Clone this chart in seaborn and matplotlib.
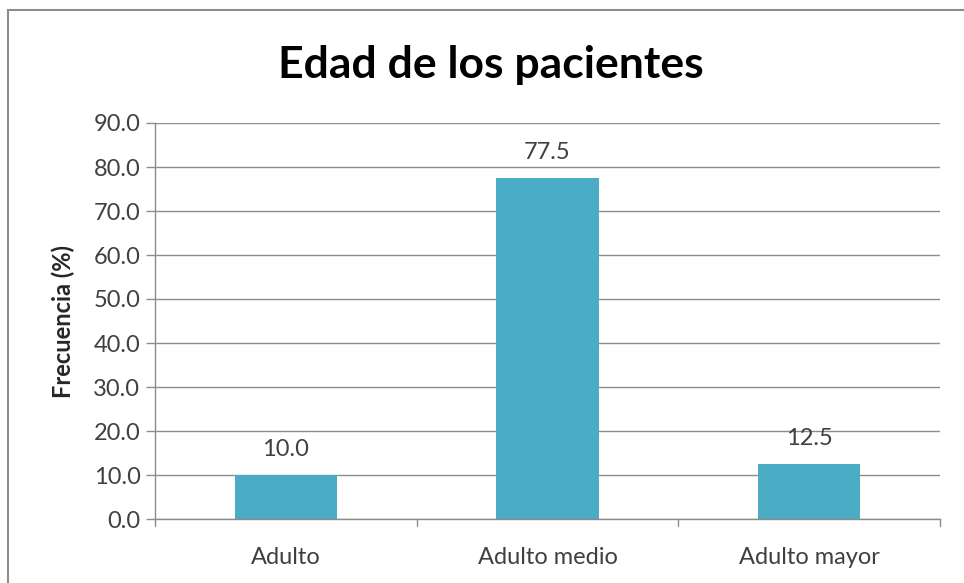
import matplotlib
matplotlib.use("Agg")
import matplotlib.pyplot as plt
from matplotlib.patches import Rectangle
import seaborn as sns
import pandas as pd

# Chart data
categorias = ["Adulto", "Adulto medio", "Adulto mayor"]
frecuencias = [10.0, 77.5, 12.5]
y_ticks = [0, 10, 20, 30, 40, 50, 60, 70, 80, 90]

df = pd.DataFrame({"categoria": categorias, "frecuencia": frecuencias})

sns.set_style("white")
plt.rcParams["font.family"] = ["Lato", "DejaVu Sans"]

fig = plt.figure(figsize=(9.64, 5.83), dpi=100)
ax = fig.add_axes([155 / 964, 1 - 519 / 583, (940 - 155) / 964, (519 - 123) / 583])

bar_color = "#4BACC6"
sns.barplot(data=df, x="categoria", y="frecuencia", color=bar_color,
            width=0.39, saturation=1, edgecolor=bar_color, linewidth=0, ax=ax)

ax.set_ylim(0, 90)
ax.set_xlim(-0.5, len(categorias) - 0.5)
ax.set_yticks(y_ticks)
ax.set_yticklabels([f"{v:.1f}" for v in y_ticks])
ax.yaxis.grid(True, color="#8c8c8c", linewidth=1)
ax.set_axisbelow(True)

# Excel-style category ticks between the bars
ax.set_xticks(range(len(categorias)))
ax.set_xticklabels(categorias)
ax.tick_params(axis="x", length=0, pad=20, labelsize=17, labelcolor="#404040")
for b in [-0.5, 0.5, 1.5, 2.5]:
    ax.plot([b, b], [0, -1.6], color="#8c8c8c", linewidth=1, clip_on=False)
ax.tick_params(axis="y", length=6.5, width=1, color="#8c8c8c", labelsize=17,
               labelcolor="#404040", pad=4, left=True)

for s in ["top", "right"]:
    ax.spines[s].set_visible(False)
for s in ["left", "bottom"]:
    ax.spines[s].set_color("#8c8c8c")
    ax.spines[s].set_linewidth(1)

for container in ax.containers:
    ax.bar_label(container, fmt="%.1f", padding=11, fontsize=17, color="#404040")

ax.set_xlabel("")
ax.set_ylabel("Frecuencia (%)", fontsize=17, fontweight="bold", labelpad=13)

fig.text(491 / 964, 1 - 65 / 583, "Edad de los pacientes", ha="center", va="center",
         fontsize=32, fontweight="bold", color="black")

# chart frame
fig.patches.append(Rectangle((8 / 964, -0.1), 1.2, 1 - 10 / 583 + 0.1,
                             transform=fig.transFigure, fill=False,
                             edgecolor="#8c8c8c", linewidth=1.5))

fig.savefig("out.png", dpi=100)
